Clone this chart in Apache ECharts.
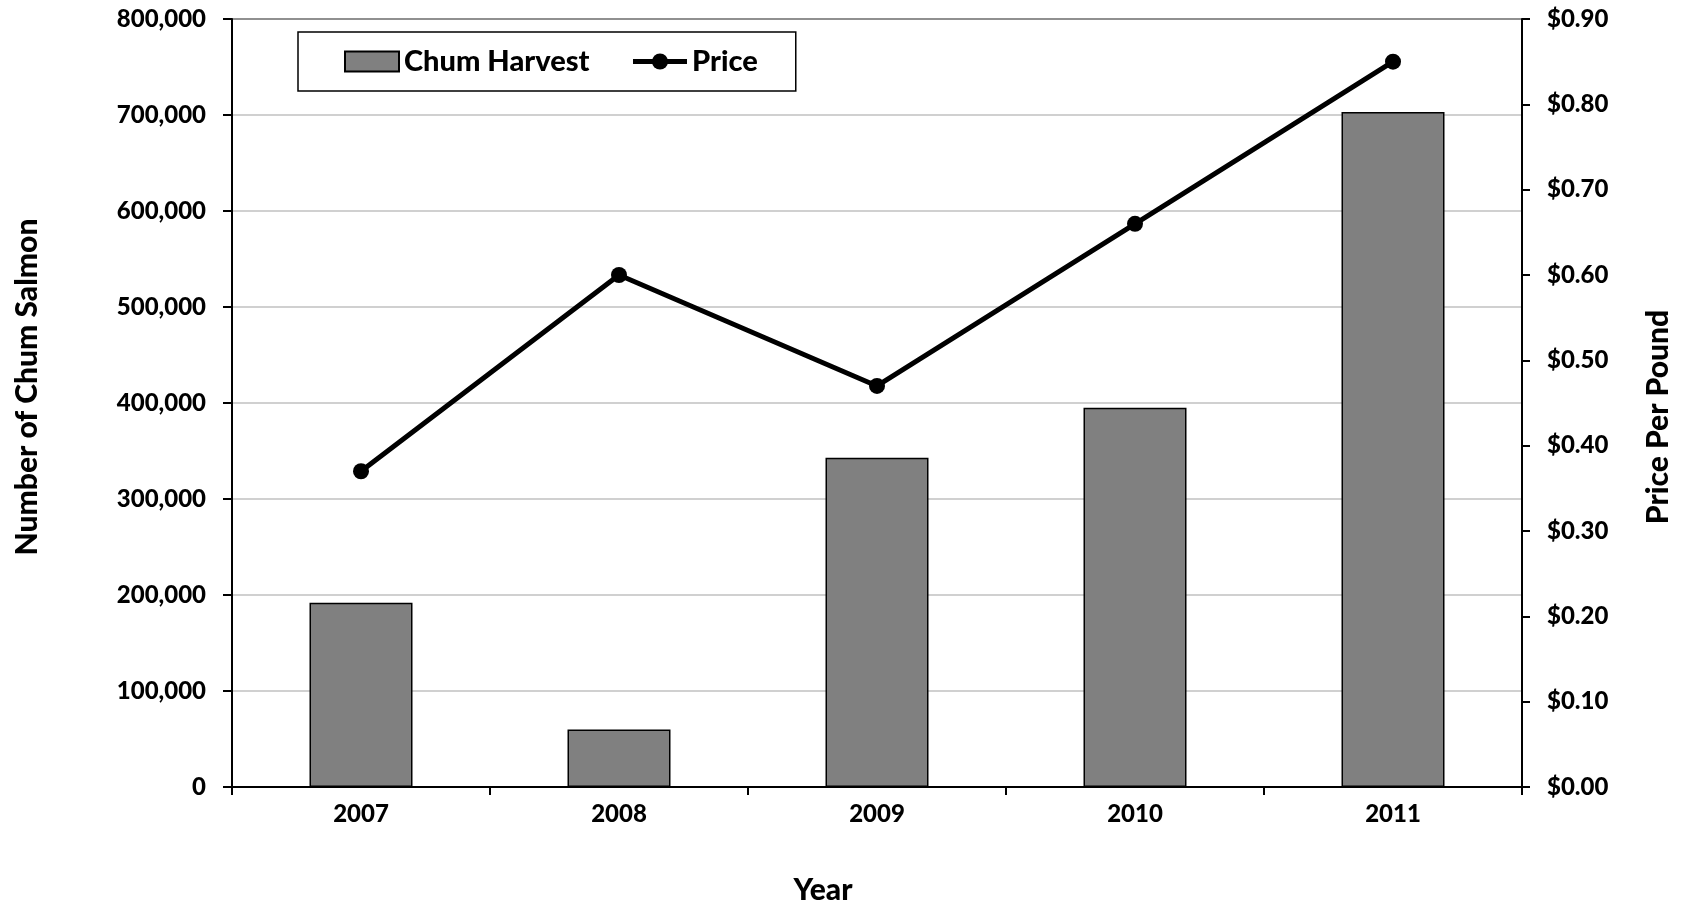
<!DOCTYPE html>
<html>
<head>
<meta charset="utf-8">
<script src="https://cdn.jsdelivr.net/npm/echarts@6/dist/echarts.min.js"></script>
<style>
    html, body { margin: 0; padding: 0; background: #ffffff; }
    #chart_chum { width: 1685px; height: 904px; }
</style>
</head>
<body>
<div id="chart_chum"></div>
<script>
var years = ['2007', '2008', '2009', '2010', '2011'];
var harvest = [192000, 60000, 343000, 395000, 703000];
var price = [0.37, 0.60, 0.47, 0.66, 0.85];

var fontName = 'Lato';
var labelStyle = {
    color: '#000000',
    fontFamily: fontName,
    fontWeight: 900,
    fontSize: 24
};
var legendStyle = {
    color: '#000000',
    fontFamily: fontName,
    fontWeight: 900,
    fontSize: 29
};

var chart_chum = echarts.init(document.getElementById('chart_chum'));

var option = {
    animation: false,
    backgroundColor: '#ffffff',
    grid: {
        left: 232,
        right: 163,
        top: 19,
        bottom: 117,
        show: true,
        borderColor: '#000000',
        borderWidth: 2
    },
    legend: {
        left: 298,
        top: 32,
        padding: [15, 38, 15, 46],
        itemGap: 41,
        itemWidth: 54,
        itemHeight: 20,
        borderColor: '#000000',
        borderWidth: 1.5,
        textStyle: legendStyle,
        data: [
            { name: 'Chum Harvest', icon: 'rect' },
            { name: 'Price', lineStyle: { width: 5, color: '#000000' } }
        ]
    },
    xAxis: [
        {
            type: 'category',
            data: years,
            axisLine: { lineStyle: { color: '#000000', width: 2 } },
            axisTick: { show: true, length: 8, lineStyle: { color: '#000000', width: 2 } },
            axisLabel: { margin: 15, textStyle: labelStyle }
        }
    ],
    yAxis: [
        {
            type: 'value',
            min: 0,
            max: 800000,
            interval: 100000,
            axisLine: { show: true, lineStyle: { color: '#000000', width: 2 } },
            axisTick: { show: true, length: 9, lineStyle: { color: '#000000', width: 2 } },
            splitLine: { lineStyle: { color: '#c0c0c0', width: 1.5 } },
            axisLabel: {
                margin: 26,
                textStyle: labelStyle,
                formatter: function (v) {
                    return v.toString().replace(/\B(?=(\d{3})+(?!\d))/g, ',');
                }
            }
        },
        {
            type: 'value',
            min: 0,
            max: 0.9,
            interval: 0.1,
            position: 'right',
            axisLine: { show: true, lineStyle: { color: '#000000', width: 2 } },
            axisTick: { show: true, length: 8, lineStyle: { color: '#000000', width: 2 } },
            splitLine: { show: false },
            axisLabel: {
                margin: 25,
                textStyle: labelStyle,
                formatter: function (v) {
                    return '$' + v.toFixed(2);
                }
            }
        }
    ],
    series: [
        {
            name: 'Chum Harvest',
            type: 'bar',
            yAxisIndex: 0,
            barWidth: 103,
            itemStyle: {
                color: '#808080',
                borderColor: '#000000',
                borderWidth: 1.5
            },
            data: harvest
        },
        {
            name: 'Price',
            type: 'line',
            yAxisIndex: 1,
            symbol: 'circle',
            symbolSize: 16,
            lineStyle: { color: '#000000', width: 5 },
            itemStyle: { color: '#000000' },
            data: price
        }
    ],
    graphic: [
        {
            type: 'text',
            x: 27,
            y: 387,
            rotation: Math.PI / 2,
            style: {
                text: 'Number of Chum Salmon',
                fill: '#000000',
                font: '900 30px Lato',
                align: 'center',
                verticalAlign: 'middle'
            }
        },
        {
            type: 'text',
            x: 1658,
            y: 417,
            rotation: Math.PI / 2,
            style: {
                text: 'Price Per Pound',
                fill: '#000000',
                font: '900 30px Lato',
                align: 'center',
                verticalAlign: 'middle'
            }
        },
        {
            type: 'text',
            x: 823,
            y: 890,
            style: {
                text: 'Year',
                fill: '#000000',
                font: '900 30px Lato',
                align: 'center',
                verticalAlign: 'middle'
            }
        }
    ]
};
chart_chum.setOption(option);
</script>
</body>
</html>
